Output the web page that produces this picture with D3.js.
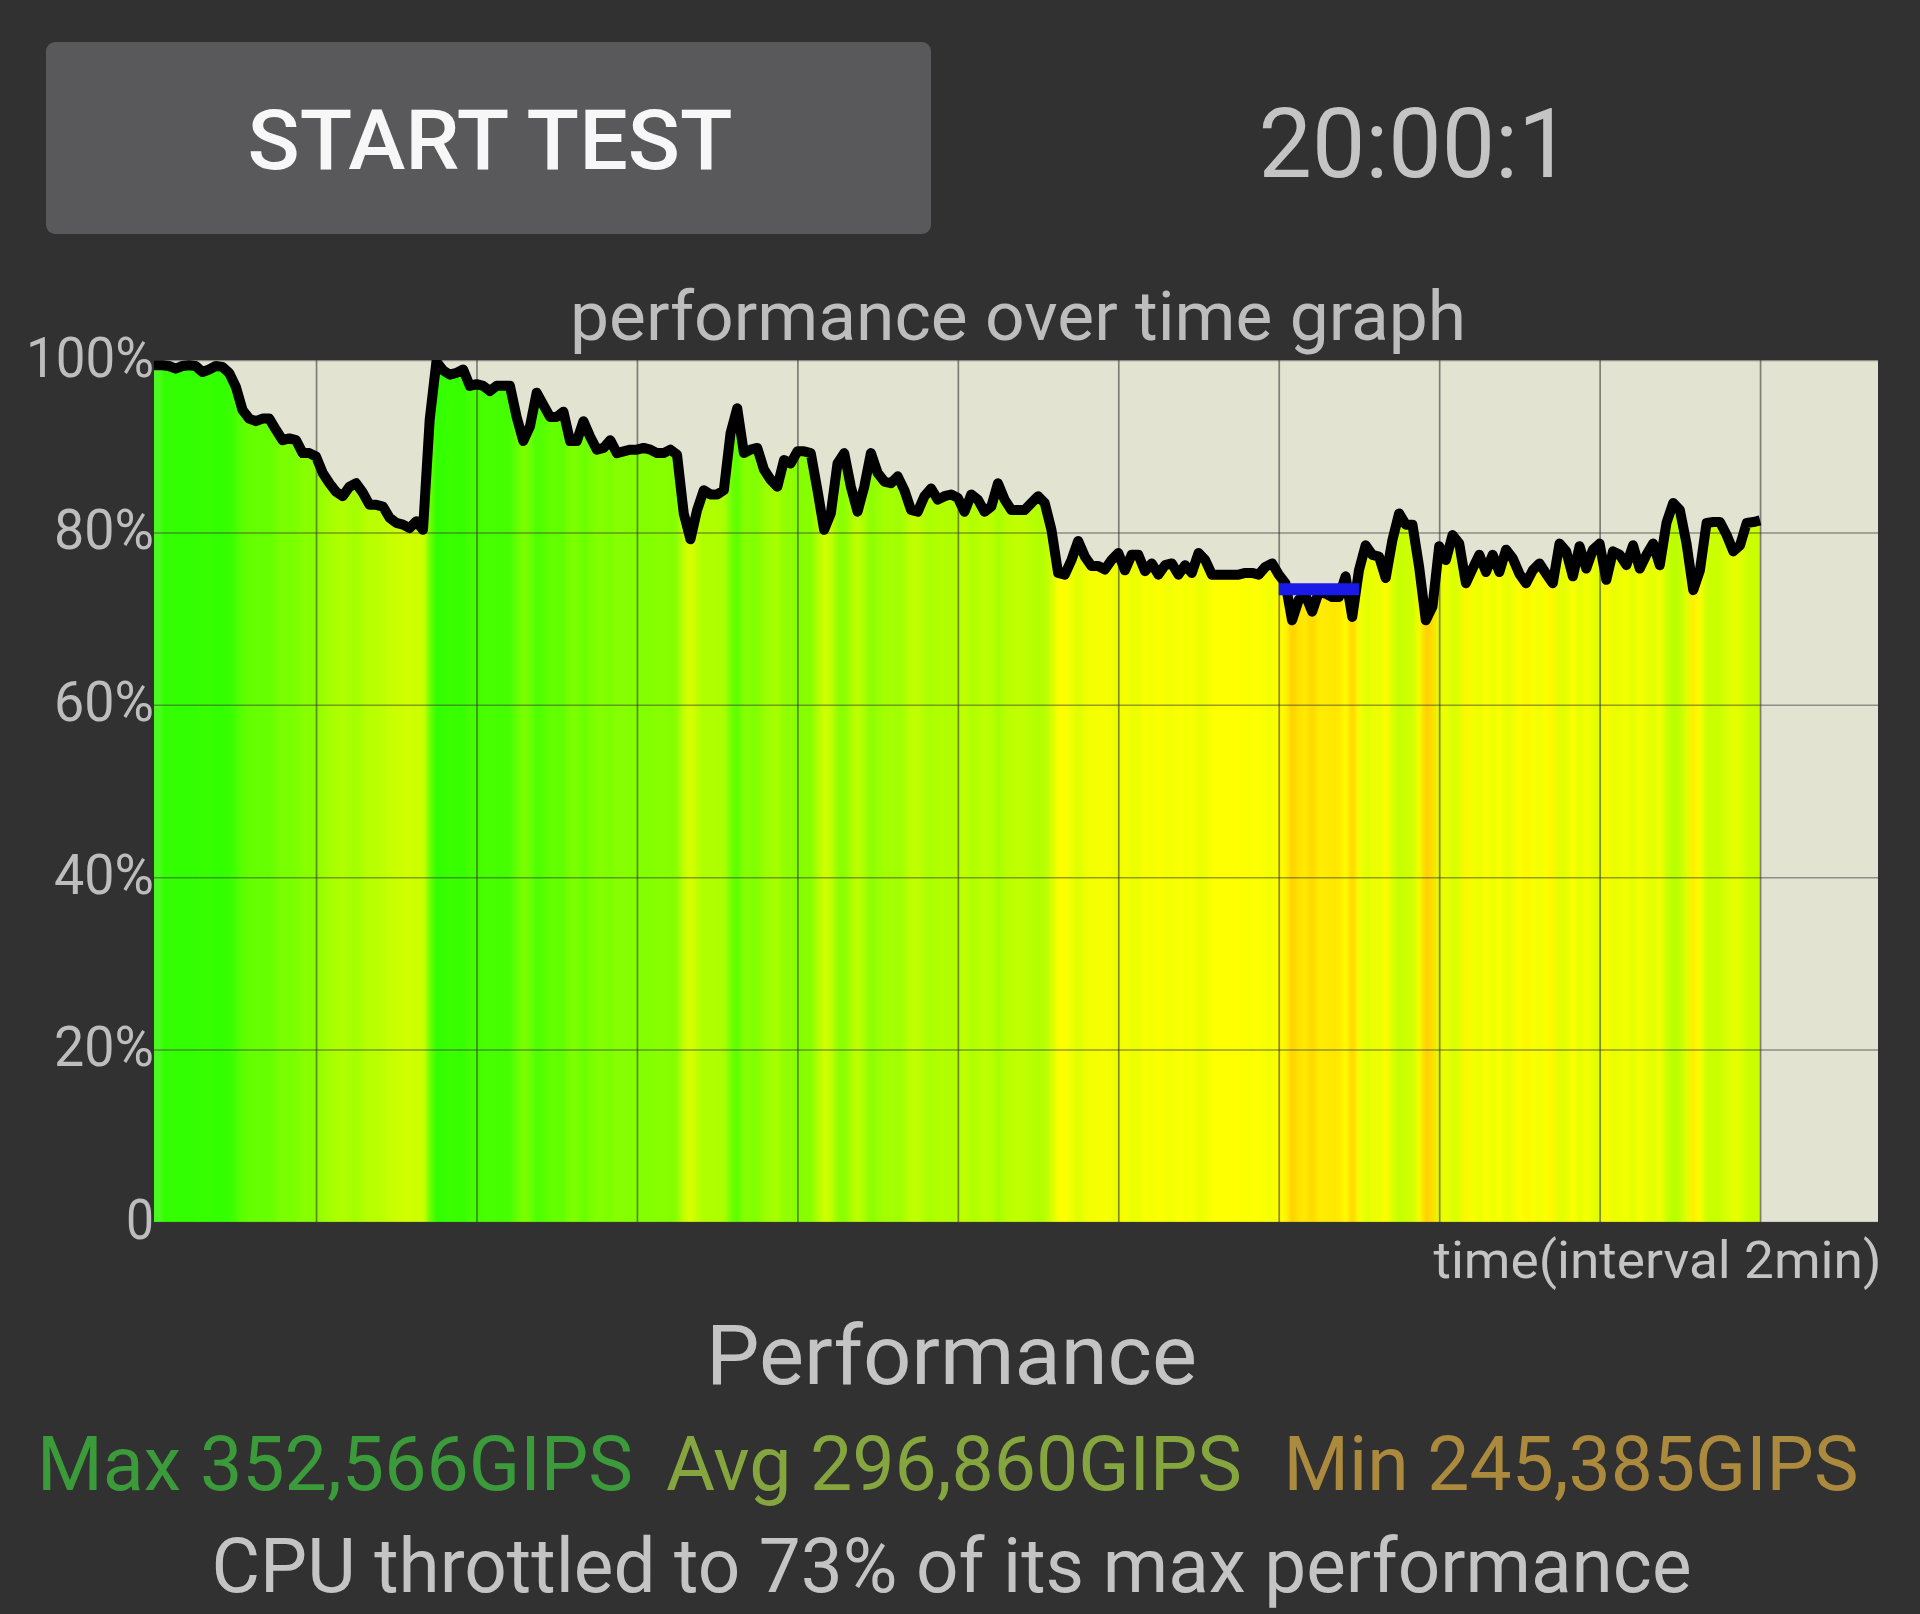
<!DOCTYPE html>
<html>
<head>
<meta charset="utf-8">
<script src="https://cdn.jsdelivr.net/npm/d3@7"></script>
<style>
  html, body { margin: 0; background: #313131; }
  svg { display: block; font-family: Roboto, sans-serif; }
</style>
</head>
<body>
<div id="chart"></div>
<script>
// one sample every 5 seconds, percent of max performance
const perfValues = [
  99.4, 99.4, 99.3, 99.0, 99.3, 99.4, 99.3, 98.6, 98.9, 99.3, 99.2, 98.5, 96.9, 94.2, 93.2, 92.9,
  93.2, 93.2, 91.9, 90.7, 90.9, 90.7, 89.2, 89.2, 88.8, 86.9, 85.7, 84.7, 84.2, 85.3, 85.7, 84.6,
  83.2, 83.2, 83.0, 81.7, 81.1, 80.9, 80.5, 81.3, 80.3, 93.1, 99.8, 98.8, 98.3, 98.5, 98.9, 97.0,
  97.2, 97.0, 96.4, 97.0, 97.0, 97.0, 93.4, 90.6, 92.3, 96.2, 94.8, 93.4, 93.4, 94.0, 90.6, 90.6,
  92.9, 91.1, 89.6, 89.8, 90.7, 89.2, 89.4, 89.6, 89.6,
  89.8, 89.6, 89.2, 89.2, 89.6, 89.0, 82.2, 79.2, 82.6, 84.9, 84.4, 84.4, 84.9, 91.5, 94.4, 89.2,
  89.6, 89.8, 87.3, 86.1, 85.3, 88.4, 88.0, 89.4, 89.4, 89.2, 84.9, 80.3, 82.2, 88.0, 89.2, 85.3,
  82.4, 85.3, 89.2, 86.9, 85.9, 85.7, 86.5, 84.9, 82.6, 82.4, 84.2, 85.1, 83.8, 84.2, 84.4, 84.0,
  82.4, 84.4, 83.8, 82.4, 83.0, 85.7, 83.8, 82.6, 82.6, 82.6, 83.4, 84.2, 83.4, 80.3, 75.3, 75.1,
  76.8, 79.0, 77.2, 76.1, 76.1, 75.7, 76.8, 77.6,
  75.6, 77.4, 77.4, 75.5, 76.4, 75.1, 76.2, 76.4, 75.1, 76.2, 75.3, 77.6, 76.8, 75.1, 75.1, 75.1,
  75.1, 75.1, 75.3, 75.3, 75.1, 76.0, 76.4, 75.1, 74.1, 69.8, 72.2, 72.7, 70.8, 73.1, 72.9, 72.5,
  72.5, 74.9, 70.2, 75.6, 78.5, 77.4, 77.2, 74.7, 79.1, 82.2, 80.9, 80.9, 76.0, 69.8, 71.4, 78.4,
  76.8, 79.7, 78.7, 74.1, 75.8, 77.4, 75.4, 77.4, 75.4, 78.0, 77.0, 75.2, 74.1, 75.6, 76.4, 75.2,
  74.1, 78.7, 77.8, 74.9, 78.4, 75.8, 78.0, 78.7, 74.5, 77.8, 77.4, 76.2, 78.5, 75.8, 77.4, 78.7,
  76.2, 81.1, 83.4, 82.6, 78.7, 73.3, 75.6, 81.1, 81.2, 81.2, 79.7, 77.8, 78.5, 81.1, 81.2, 81.4
]
const yTicks = [0, 20, 40, 60, 80, 100]
const xTicks = [2, 4, 6, 8, 10, 12, 14, 16, 18, 20]
const throttleSpan = [14, 15]
const throttleLevel = 73.4
const colorStops = [100, 75, 65]
const colorRange = ['#2bff00', '#ffff00', '#ffa000']

// text blocks, sized by hand against the screenshot
const labels = [
  {text: 'START TEST', x: 490, y: 169, size: 84, width: 485, weight: 500, fill: '#f7f7f7'},
  {text: '20:00:1', x: 1415, y: 177, size: 96, width: 313, fill: '#c4c4c4'},
  {text: 'performance over time graph', x: 1018, y: 340, size: 68, width: 896, fill: '#bdbdbd'},
  {text: 'time(interval 2min)', x: 1657.5, y: 1278, size: 52, width: 448, fill: '#c4c4c4'},
  {text: 'Performance', x: 951.5, y: 1384, size: 84, width: 491, fill: '#c4c4c4'},
  {text: 'Max 352,566GIPS', x: 335, y: 1490, size: 76, width: 596, fill: '#3b9b3b'},
  {text: 'Avg 296,860GIPS', x: 954, y: 1490, size: 76, width: 576, fill: '#85a53f'},
  {text: 'Min 245,385GIPS', x: 1571, y: 1490, size: 76, width: 575, fill: '#ab893d'},
  {text: 'CPU throttled to 73% of its max performance', x: 951.5, y: 1592, size: 76, width: 1480, fill: '#c4c4c4'}
]

const width = 1920
const height = 1614
const plot = {left: 154, right: 1878, top: 360, bottom: 1222}
const xStart = -0.02
const step = 1 / 12

const perfTimes = perfValues.map((v, i) => i ? i * step : xStart)
const samples = perfValues.map((v, i) => ({t: perfTimes[i], v}))

const x = d3.scaleLinear().domain([xStart, 21.47]).range([plot.left, plot.right])
const y = d3.scaleLinear().domain([0, 100]).range([plot.bottom, plot.top])
const color = d3.scaleLinear().domain(colorStops).range(colorRange).clamp(true)

const svg = d3.select('#chart').append('svg')
  .attr('width', width)
  .attr('height', height)

// button behind the START TEST text
svg.append('rect')
  .attr('x', 46).attr('y', 42)
  .attr('width', 885).attr('height', 192)
  .attr('rx', 9)
  .attr('fill', '#59595b')

// plot background
svg.append('rect')
  .attr('x', plot.left).attr('y', plot.top)
  .attr('width', plot.right - plot.left).attr('height', plot.bottom - plot.top)
  .attr('fill', '#e3e3d2')

const defs = svg.append('defs')
defs.append('clipPath').attr('id', 'plot-clip')
  .append('rect')
  .attr('x', plot.left).attr('y', plot.top)
  .attr('width', plot.right - plot.left).attr('height', plot.bottom - plot.top)

// the bars stay only under the curve
const area = d3.area().x(d => x(d.t)).y0(y(0)).y1(d => y(d.v))
defs.append('clipPath').attr('id', 'area-clip')
  .append('path').attr('d', area(samples))

// neighbouring bars melt together a little in the reference
const soften = defs.append('filter').attr('id', 'soften')
  .attr('x', '-2%').attr('width', '104%')
soften.append('feGaussianBlur')
  .attr('stdDeviation', '2.5 0')
  .attr('edgeMode', 'duplicate')

const barW = x(step) - x(0)
svg.append('g').attr('clip-path', 'url(#area-clip)')
  .append('g').attr('filter', 'url(#soften)')
  .selectAll('rect')
  .data(samples)
  .join('rect')
  .attr('x', d => x(d.t) - barW / 2)
  .attr('y', y(100))
  .attr('width', barW + 0.5)
  .attr('height', y(0) - y(100))
  .attr('fill', d => color(d.v))

// grid lines come from the axes
const gridX = svg.append('g')
  .attr('transform', `translate(0, ${plot.bottom})`)
  .call(d3.axisBottom(x).tickValues(xTicks).tickSize(plot.top - plot.bottom).tickFormat(''))
const gridY = svg.append('g')
  .attr('transform', `translate(${plot.left}, 0)`)
  .call(d3.axisLeft(y).tickValues(yTicks).tickSize(plot.left - plot.right).tickPadding(0)
    .tickFormat(d => d ? d + '%' : '0'))
gridX.select('.domain').remove()
gridY.select('.domain').remove()
gridX.selectAll('line').attr('stroke', '#3a3a3a').attr('stroke-opacity', 0.6).attr('stroke-width', 1.7)
gridY.selectAll('line').attr('stroke', '#3a3a3a').attr('stroke-opacity', 0.5).attr('stroke-width', 1.5)
gridY.selectAll('text')
  .attr('dy', 16)
  .attr('font-family', 'Roboto, sans-serif')
  .attr('font-size', 56)
  .attr('textLength', d => d === 100 ? 128 : d ? 100 : 28)
  .attr('lengthAdjust', 'spacingAndGlyphs')
  .attr('fill', '#bdbdbd')

// performance curve
const line = d3.line().x(d => x(d.t)).y(d => y(d.v))
const marks = svg.append('g').attr('clip-path', 'url(#plot-clip)')
marks.append('path')
  .attr('d', line(samples))
  .attr('fill', 'none')
  .attr('stroke', '#000')
  .attr('stroke-width', 10)
  .attr('stroke-linejoin', 'round')

// blue marker at the throttled level
marks.append('line')
  .attr('x1', x(throttleSpan[0])).attr('x2', x(throttleSpan[1]))
  .attr('y1', y(throttleLevel)).attr('y2', y(throttleLevel))
  .attr('stroke', '#1a1ae8')
  .attr('stroke-width', 12)

svg.append('g')
  .selectAll('text')
  .data(labels)
  .join('text')
  .attr('x', d => d.x)
  .attr('y', d => d.y)
  .attr('text-anchor', 'middle')
  .attr('font-size', d => d.size)
  .attr('font-weight', d => d.weight || 400)
  .attr('textLength', d => d.width)
  .attr('lengthAdjust', 'spacingAndGlyphs')
  .attr('fill', d => d.fill)
  .text(d => d.text)
</script>
</body>
</html>
